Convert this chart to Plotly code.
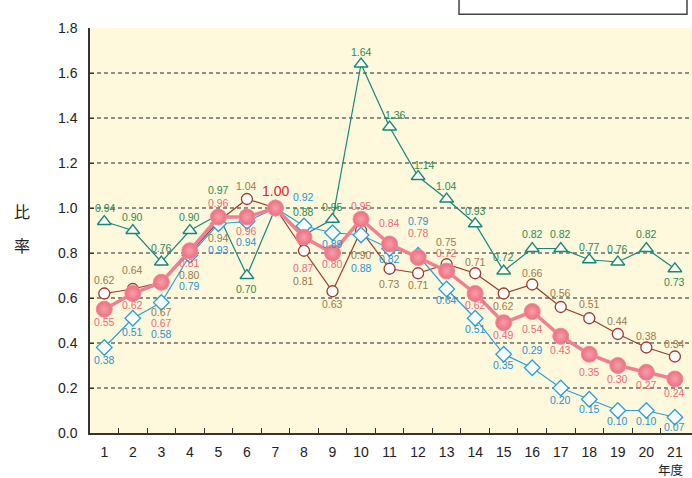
import plotly.graph_objects as go

# ---------------- data ----------------
years = list(range(1, 22))
year_labels = [str(y) for y in years]
y_tick_vals = [0.0, 0.2, 0.4, 0.6, 0.8, 1.0, 1.2, 1.4, 1.6, 1.8]
y_tick_text = ["0.0", "0.2", "0.4", "0.6", "0.8", "1.0", "1.2", "1.4", "1.6", "1.8"]

ratio_triangle = [0.94, 0.90, 0.76, 0.90, 0.97, 0.70, 1.00, 0.88, 0.95, 1.64, 1.36,
                  1.14, 1.04, 0.93, 0.72, 0.82, 0.82, 0.77, 0.76, 0.82, 0.73]
ratio_open = [0.62, 0.64, 0.67, 0.80, 0.94, 1.04, 1.00, 0.81, 0.63, 0.90, 0.73,
              0.71, 0.75, 0.71, 0.62, 0.66, 0.56, 0.51, 0.44, 0.38, 0.34]
ratio_dot = [0.55, 0.62, 0.67, 0.81, 0.96, 0.96, 1.00, 0.87, 0.80, 0.95, 0.84,
             0.78, 0.72, 0.62, 0.49, 0.54, 0.43, 0.35, 0.30, 0.27, 0.24]
ratio_diamond = [0.38, 0.51, 0.58, 0.79, 0.93, 0.94, 1.00, 0.92, 0.89, 0.88, 0.82,
                 0.79, 0.64, 0.51, 0.35, 0.29, 0.20, 0.15, 0.10, 0.10, 0.07]

# ---------------- label placement (style, pixels; None = no label) ----------------
shift_triangle = [14, 14, 14, 14, 25, -13, None, 23, 12, 12, 12, 12, 13, 13, 14, 15, 15, 13, 13, 15, -13]
xshift_triangle = [1, 0, 0, 0, 0, 0, 0, 0, 0, 0, 6, 6, 0, 0, 0, 0, 0, 0, 0, 0, 0]
shift_open = [14, 19, -30, -22, -16, 13, None, -30, -13, -24, -15, -12, 22, 11, -12, 12, 14, 14, 13, 12, 13]
shift_dot = [-13, -11, -41, -12, 14, -14, 17, -31, -11, 13, 21, 25, 18, -11, -12, -17, -14, -18, -13, -13, -14]
shift_diamond = [-12, -14, -31, -31, -26, -20, None, 29, -11, -33, -10, 34, -11, -11, -11, 18, -12, -10, -10, -10, -10]

NARROW = "Liberation Sans Narrow, Arial Narrow, Liberation Sans, Arial, sans-serif"
CJK = "Noto Sans CJK JP, Noto Sans CJK SC, sans-serif"

C_TRI_LINE = "#16877B"
C_TRI_TEXT = "#2C8A4E"
C_OPEN_LINE = "#9E3A2C"
C_OPEN_TEXT = "#9A7A48"
C_DIA_LINE = "#29A0DA"
C_DIA_TEXT = "#2A93CF"
C_DOT = "#EE6E80"
C_DOT_LINE = "#F0808F"
C_DOT_TEXT = "#EE6A7A"
C_RED = "#E3232D"

fig = go.Figure()

fig.add_trace(go.Scatter(
    x=years, y=ratio_triangle, mode="lines+markers",
    line=dict(color=C_TRI_LINE, width=1.2),
    marker=dict(symbol="triangle-up", size=12, color="#FFFDEE",
                line=dict(color=C_TRI_LINE, width=1.3)),
    hoverinfo="skip", showlegend=False))

fig.add_trace(go.Scatter(
    x=years, y=ratio_open, mode="lines+markers",
    line=dict(color=C_OPEN_LINE, width=1.2),
    marker=dict(symbol="circle", size=11, color="#FFFFFF",
                line=dict(color=C_OPEN_LINE, width=1.3)),
    hoverinfo="skip", showlegend=False))

fig.add_trace(go.Scatter(
    x=years, y=ratio_diamond, mode="lines+markers",
    line=dict(color=C_DIA_LINE, width=1.2),
    marker=dict(symbol="diamond", size=12, color="#FFFFFF",
                line=dict(color=C_DIA_LINE, width=1.3)),
    hoverinfo="skip", showlegend=False))

fig.add_trace(go.Scatter(
    x=years, y=ratio_dot, mode="lines+markers",
    line=dict(color=C_DOT_LINE, width=3.5),
    marker=dict(symbol="circle", size=16, color=C_DOT,
                gradient=dict(type="radial", color="#F4A0AA"),
                line=dict(color="#F08C99", width=1)),
    hoverinfo="skip", showlegend=False))

annotations = []


def add_labels(values, shifts, color, xshifts=None, size=10.5):
    for i, (x, v, s) in enumerate(zip(years, values, shifts)):
        if s is None:
            continue
        annotations.append(dict(
            x=x, y=v, xref="x", yref="y", text=f"{v:.2f}", showarrow=False,
            yshift=s, xshift=(xshifts[i] if xshifts else 0), borderpad=0,
            font=dict(family=NARROW, size=size, color=color)))


add_labels(ratio_triangle, shift_triangle, C_TRI_TEXT, xshift_triangle)
add_labels(ratio_open, shift_open, C_OPEN_TEXT)
add_labels(ratio_diamond, shift_diamond, C_DIA_TEXT)
# pink labels; year 7 is the emphasised reference value
for i, (x, v, s) in enumerate(zip(years, ratio_dot, shift_dot)):
    big = (x == 7)
    annotations.append(dict(
        x=x, y=v, xref="x", yref="y", text=f"{v:.2f}", showarrow=False, yshift=s,
        borderpad=0,
        font=dict(family=NARROW, size=14 if big else 10.5, color=C_RED if big else C_DOT_TEXT)))

# axis titles
for txt, xp, yp, sz in [("比", -0.113, 0.548, 16), ("率", -0.113, 0.463, 16),
                        ("年度", 0.965, -0.090, 12.5)]:
    annotations.append(dict(x=xp, y=yp, xref="paper", yref="paper", text=txt,
                            xanchor="center", yanchor="middle", showarrow=False,
                            borderpad=0,
                            font=dict(family=CJK, size=sz, color="#222")))

shapes = []
# dashed grid lines
for gv in y_tick_vals[1:-1]:
    shapes.append(dict(type="line", xref="paper", yref="y", x0=0, x1=1, y0=gv, y1=gv,
                       line=dict(color="#6A6A6A", width=1.5, dash="4px,3px"), layer="below"))
# legend box (cut off at top of the image)
shapes.append(dict(type="rect", xref="paper", yref="paper", x0=0.613, x1=0.9917,
                   y0=1.034, y1=1.09, line=dict(color="#444", width=1.5),
                   fillcolor="#FFFFFF"))

fig.update_layout(
    width=692, height=478,
    margin=dict(l=90, r=0, t=28, b=45),
    paper_bgcolor="#FFFFFF",
    plot_bgcolor="#FEF9DD",
    annotations=annotations,
    shapes=shapes,
    showlegend=False,
)

fig.update_xaxes(
    range=[0.5, 21.6], tickvals=years, ticktext=year_labels,
    ticks="", showgrid=False, zeroline=False,
    showline=True, linecolor="#333", linewidth=1.5,
    tickfont=dict(family=NARROW, size=14, color="#222"),
    ticklabelstandoff=5,
    minor=dict(tickvals=[y + 0.5 for y in years[:-1]], ticks="inside", ticklen=5,
               tickcolor="#333", tickwidth=1.2, showgrid=False),
)
fig.update_yaxes(
    range=[0, 1.8], tickvals=y_tick_vals, ticktext=y_tick_text,
    ticks="inside", ticklen=4, tickcolor="#333",
    showgrid=False, zeroline=False,
    showline=True, linecolor="#333", linewidth=1.5,
    tickfont=dict(family=NARROW, size=14, color="#222"),
    ticklabelstandoff=8,
)

fig.write_html(
    "out.html",
    config={"displayModeBar": False},
    post_script="document.body.style.margin='0';document.body.style.overflow='hidden';",
)
